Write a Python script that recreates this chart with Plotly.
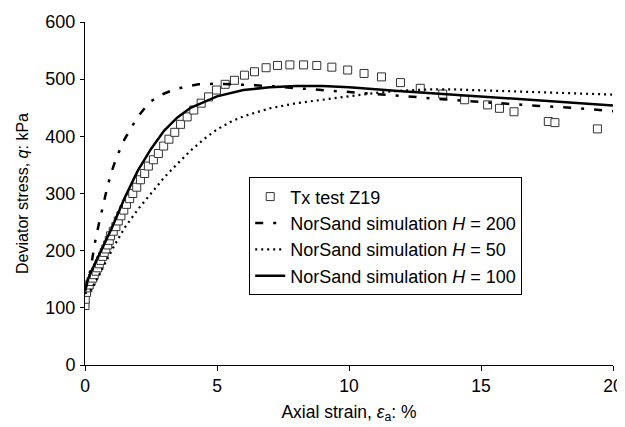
import plotly.graph_objects as go

# Test data: Tx test Z19
tx_strain = [0.0, 0.01, 0.06, 0.11, 0.16, 0.23, 0.29, 0.35, 0.42, 0.48, 0.54, 0.60, 0.67, 0.73, 0.79, 0.86, 0.92,
             0.97, 1.07, 1.17, 1.26, 1.36, 1.47, 1.57, 1.69, 1.81, 1.96, 2.10, 2.26, 2.40, 2.59, 2.78, 2.98, 3.18,
             3.40, 3.62, 3.87, 4.12, 4.40, 4.68, 4.98, 5.31, 5.66, 6.04, 6.42, 6.86, 7.29, 7.76, 8.28, 8.78, 9.35,
             9.95, 10.57, 11.23, 11.95, 12.70, 13.55, 14.38, 15.25, 15.70, 16.25, 17.55, 17.80, 19.41]
tx_q = [104, 115, 127, 135, 140, 146, 152, 158, 164, 170, 177, 183, 190, 197, 203, 210, 218,
        226, 234, 242, 252, 261, 271, 281, 291, 300, 311, 324, 335, 348, 359, 370, 383, 395,
        407, 421, 434, 446, 458, 469, 481, 491, 498, 507, 513, 520, 524, 525, 525, 524, 521,
        516, 510, 504, 494, 484, 474, 464, 455, 449, 443, 426, 424, 413]

# NorSand H = 200
h200_strain = [0, 0.1, 0.2, 0.3, 0.4, 0.55, 0.7, 0.85, 1.0, 1.2, 1.5, 1.8, 2.1, 2.45, 2.9, 3.33, 3.8, 4.3, 5.0,
               5.8, 6.6, 7.5, 8.1, 9.1, 10, 11, 12.2, 13.5, 14.6, 16, 17.2, 18.5, 20]
h200_q = [130, 145, 165, 192, 220, 252, 283, 312, 337, 364, 395, 419, 440, 460, 473, 481, 487, 491, 492,
          491, 489, 486, 484, 481, 477, 474, 470, 465, 461, 457, 453, 450, 444]

# NorSand H = 50
h50_strain = [0, 0.2, 0.45, 0.75, 1.1, 1.5, 2.0, 2.5, 3.0, 3.5, 4.0, 4.5, 5.0, 5.5, 6.0, 7.0, 8.0, 9.0,
              10, 11, 12, 13, 14, 16, 18, 20]
h50_q = [125, 130, 150, 178, 208, 240, 272, 300, 328, 352, 375, 395, 412, 425, 435, 449, 458, 464,
         470, 476, 480, 482, 482, 479, 476, 473]

# NorSand H = 100
h100_strain = [0, 0.1, 0.25, 0.5, 0.7, 1.0, 1.5, 2.0, 2.5, 3.0, 3.5, 4.0, 5.0, 6.0, 7.0, 8.0, 9.0, 10,
               12, 14, 16, 18, 20]
h100_q = [130, 148, 165, 190, 207, 238, 292, 340, 378, 410, 433, 450, 470, 481, 486, 488, 488, 486,
          479, 473, 467, 461, 454]

x_ticks = [0, 5, 10, 15, 20]
y_ticks = [0, 100, 200, 300, 400, 500, 600]

FONT = "Liberation Sans, Arial, sans-serif"

fig = go.Figure()
fig.add_trace(go.Scatter(x=tx_strain, y=tx_q, mode="markers", name="Tx test Z19",
                         marker=dict(symbol="square", size=8, color="white",
                                     line=dict(color="#333333", width=1))))
fig.add_trace(go.Scatter(x=h200_strain, y=h200_q, mode="lines", name="NorSand simulation <i>H</i> = 200",
                         line=dict(color="black", width=2.5, dash="8px,10px,3px,10px")))
fig.add_trace(go.Scatter(x=h50_strain, y=h50_q, mode="lines", name="NorSand simulation <i>H</i> = 50",
                         line=dict(color="black", width=2.2, dash="2px,4px")))
fig.add_trace(go.Scatter(x=h100_strain, y=h100_q, mode="lines", name="NorSand simulation <i>H</i> = 100",
                         line=dict(color="black", width=2.5)))

# page body has an 8px margin, so the figure is sized to fit the 625x427 window
fig.update_layout(
    width=617, height=419,
    margin=dict(l=77, r=12, t=14, b=62),
    paper_bgcolor="white", plot_bgcolor="white",
    font=dict(family=FONT, size=16, color="black"),
    showlegend=True,
    legend=dict(x=0.311, y=0.547, xanchor="left", yanchor="top",
                bgcolor="white", bordercolor="black", borderwidth=1,
                font=dict(family=FONT, size=18, color="black"),
                tracegroupgap=0),
    xaxis=dict(range=[0, 20], tickvals=x_ticks, showgrid=False, zeroline=False,
               showline=True, linecolor="black", linewidth=1, ticks="outside", ticklen=5,
               tickcolor="black", tickfont=dict(size=17.5), automargin=False,
               title=dict(text="Axial strain, <i>ε</i><sub>a</sub>: %", font=dict(size=17.5), standoff=10)),
    yaxis=dict(range=[0, 600], tickvals=y_ticks, showgrid=False, zeroline=False,
               showline=True, linecolor="black", linewidth=1, ticks="outside", ticklen=4,
               tickcolor="black", tickfont=dict(size=18), ticklabelstandoff=1, automargin=False,
               title=dict(text="Deviator stress, <i>q</i>: kPa", font=dict(size=16), standoff=12)),
)

fig.write_html("out.html")
